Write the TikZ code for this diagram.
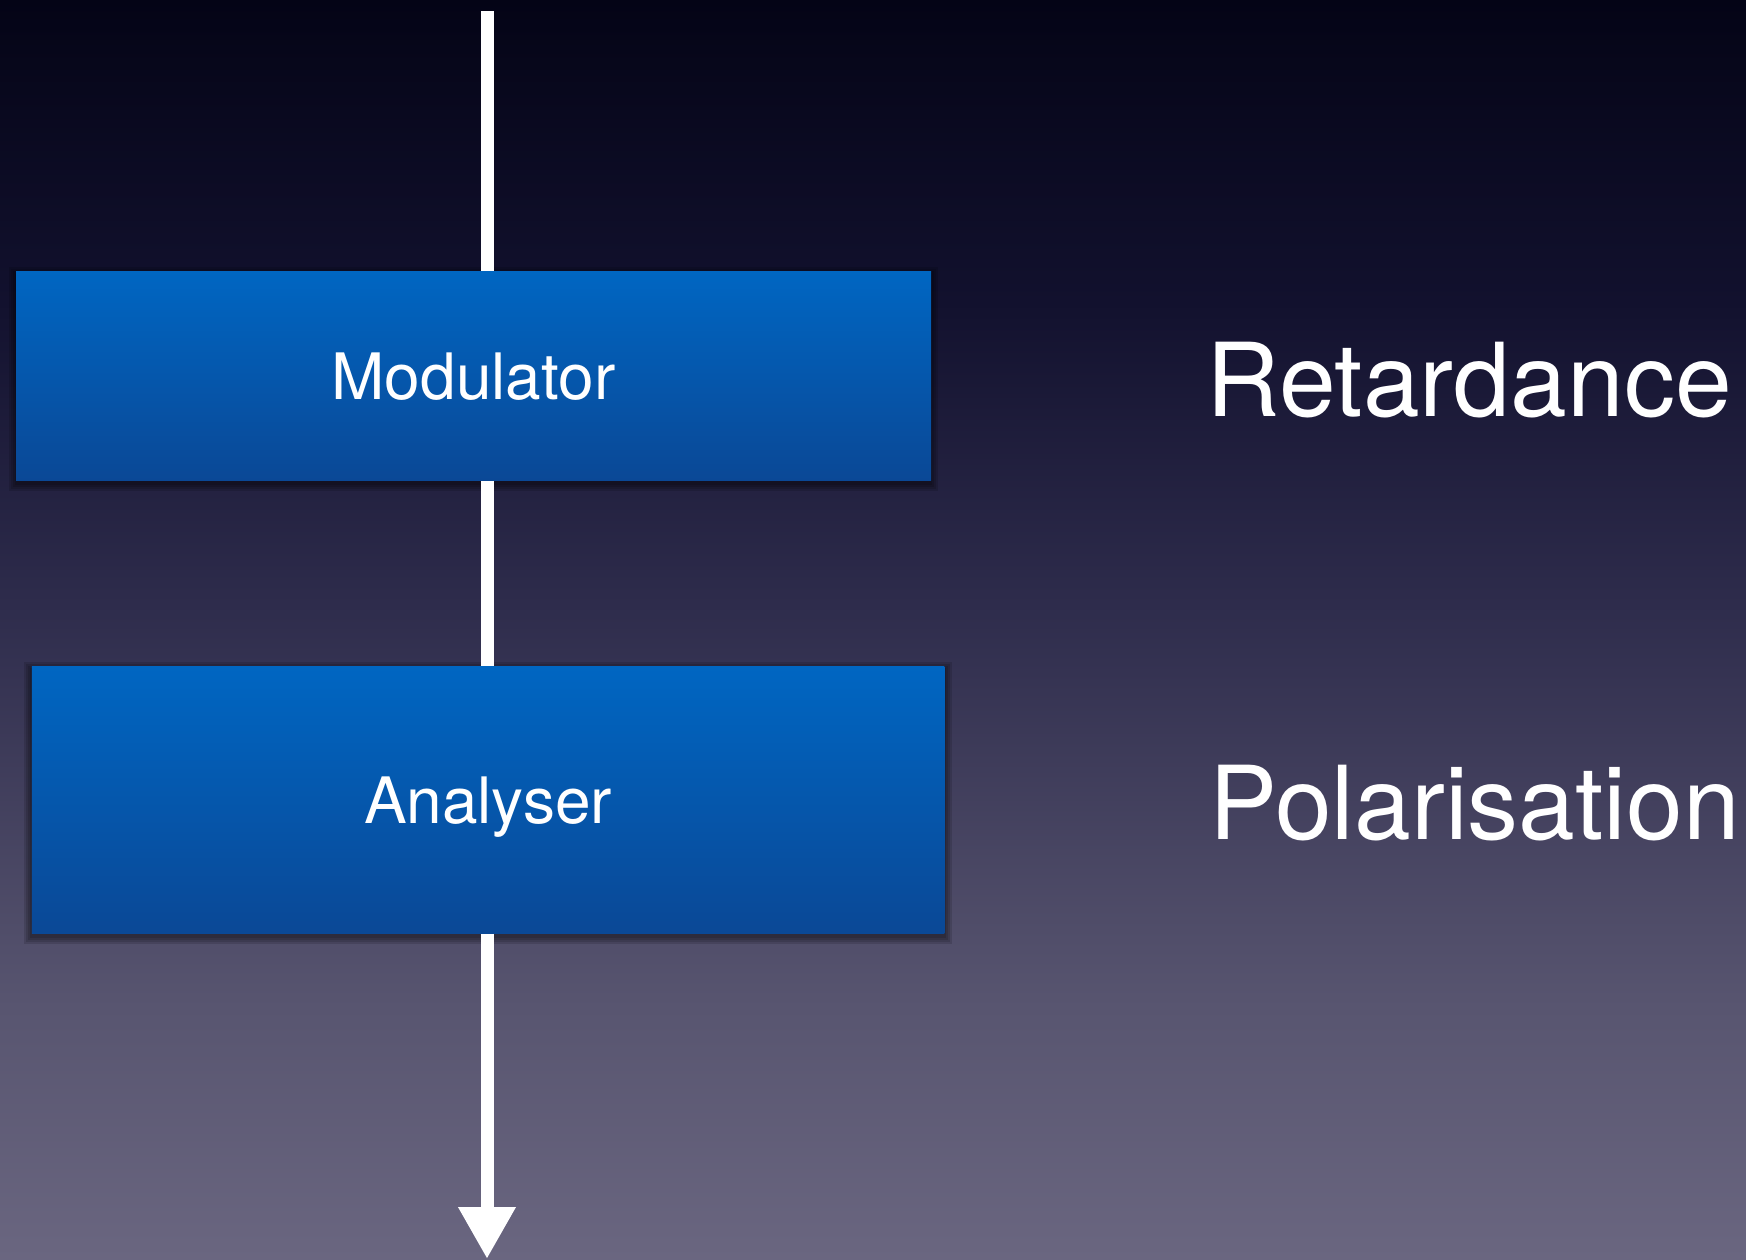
\documentclass[tikz,border=0pt]{standalone}
\usepackage{fontspec}
\setmainfont{TeX Gyre Heros}
\usetikzlibrary{arrows.meta}
\definecolor{boxtop}{RGB}{0,102,194}
\definecolor{boxbot}{RGB}{10,72,150}
\definecolor{bga}{RGB}{106,102,128}
\definecolor{bgb}{RGB}{88,85,112}
\definecolor{bgc}{RGB}{46,44,76}
\definecolor{bgd}{RGB}{18,17,46}
\definecolor{bge}{RGB}{4,4,22}
\pgfdeclareverticalshading{bgshade}{100bp}{color(0bp)=(bga); color(25bp)=(bga); color(35bp)=(bgb); color(51bp)=(bgc); color(63bp)=(bgd); color(75bp)=(bge); color(100bp)=(bge)}
\pgfdeclarelayer{bgl}
\pgfdeclarelayer{shl}
\pgfsetlayers{bgl,shl,main}
\tikzset{
  blockbox/.style={rectangle, inner sep=0pt, top color=boxtop, bottom color=boxbot,
    text=white, font=\fontsize{32}{38}\selectfont, text height=23pt, text depth=0pt},
  conn/.style={draw=white, line width=6.5pt},
  sidelabel/.style={anchor=base west, inner sep=0pt, text=white, font=\fontsize{51}{61}\selectfont}
}
\begin{document}
\begin{tikzpicture}[x=0.5pt,y=0.5pt]
\begin{pgfonlayer}{bgl}
\shade[shading=bgshade] (0,0) rectangle (1746,-1259);
\end{pgfonlayer}
\useasboundingbox (0,0) rectangle (1746,-1259);

\coordinate (top) at (487,-11);
\coordinate (bot) at (487,-1259);

\node[blockbox, minimum width=457.5pt, minimum height=104.5pt] (mod) at (473.5,-376) {Modulator};
\node[blockbox, minimum width=456.25pt, minimum height=133.5pt] (ana) at (488,-800) {Analyser};

\begin{pgfonlayer}{shl}
\foreach \s in {1,3,5,7}{
  \fill[black,opacity=0.13] ([shift={(-\s,\s-3)}]mod.north west) rectangle ([shift={(\s,-\s-3)}]mod.south east);
  \fill[black,opacity=0.13] ([shift={(-\s,\s-3)}]ana.north west) rectangle ([shift={(\s,-\s-3)}]ana.south east);
}
\end{pgfonlayer}

\draw[conn] (top) -- (mod.north -| top);
\draw[conn] (mod.south -| top) -- (ana.north -| top);
\draw[conn, -{Triangle[width=27pt,length=26pt]}] (ana.south -| top) -- (bot);

\node[sidelabel] (ret) at (1206,-416) {Retardance};
\node[sidelabel] (pol) at (1209,-839) {Polarisation};
\end{tikzpicture}
\end{document}
